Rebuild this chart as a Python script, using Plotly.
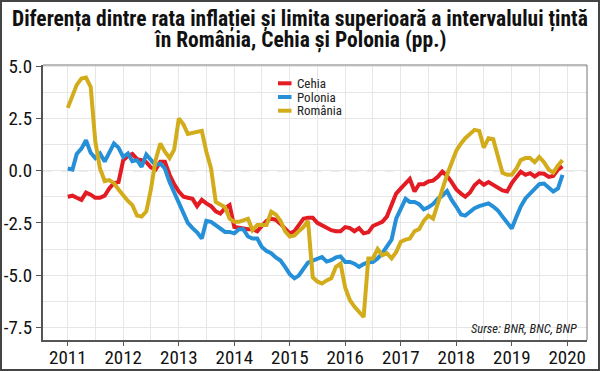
import pandas as pd
import plotly.graph_objects as go

months = pd.date_range("2011-01-01", periods=108, freq="MS")

cehia = [-1.25, -1.2, -1.3, -1.4, -1.05, -1.15, -1.3, -1.3, -1.2, -0.85, -0.6, -0.55,
         0.5, 0.7, 0.8, 0.55, 0.5, 0.4, 0.15, 0.05, 0.42, 0.42, -0.2, -0.65,
         -1.0, -1.25, -1.3, -1.35, -1.7, -1.4, -1.57, -1.7, -1.95, -2.05, -1.8, -1.65,
         -2.7, -2.75, -2.77, -2.8, -2.8, -2.9, -2.65, -2.4, -2.3, -2.35, -2.55, -2.8,
         -3.0, -2.9, -2.6, -2.3, -2.25, -2.25, -2.5, -2.62, -2.7, -2.85, -2.9, -2.9,
         -2.7, -2.75, -2.9, -2.75, -3.0, -2.95, -2.65, -2.55, -2.45, -2.2, -1.6, -1.1,
         -0.85, -0.6, -0.4, -1.0, -0.65, -0.65, -0.52, -0.48, -0.3, -0.05, -0.25, -0.55,
         -0.9, -1.1, -1.25, -1.05, -0.7, -0.5, -0.68, -0.55, -0.7, -0.85, -0.95, -1.0,
         -0.6, -0.3, -0.05, -0.2, -0.12, -0.28, -0.13, -0.15, -0.3, -0.25, 0.05, 0.2]

polonia = [0.1, 0.05, 0.8, 1.05, 1.45, 0.85, 0.6, 0.82, 0.43, 0.9, 1.3, 1.1,
           0.65, 0.82, 0.45, 0.5, 0.18, 0.77, 0.52, 0.25, 0.34, 0.1, -0.55, -1.05,
           -1.6, -2.1, -2.5, -2.75, -2.95, -3.25, -2.4, -2.45, -2.6, -2.75, -2.93, -2.93,
           -3.0, -2.8, -2.8, -3.15, -3.25, -3.25, -3.65, -3.85, -3.95, -4.15, -4.3, -4.6,
           -4.95, -5.15, -5.02, -4.7, -4.4, -4.3, -4.2, -4.13, -4.35, -4.28, -4.15, -4.1,
           -4.37, -4.37, -4.45, -4.6, -4.47, -4.38, -4.37, -4.2, -3.95, -3.65, -3.3, -2.3,
           -1.8, -1.35, -1.5, -1.5, -1.6, -1.85, -1.75, -1.6, -1.35, -1.2, -0.98, -1.4,
           -1.73, -2.1, -2.15, -1.98, -1.8, -1.7, -1.63, -1.57, -1.72, -1.9, -2.2, -2.45,
           -2.77, -2.2, -1.72, -1.33, -1.1, -0.9, -0.65, -0.62, -0.8, -1.0, -0.85, -0.2]

romania = [3.0, 3.6, 4.1, 4.4, 4.45, 4.0, 1.4, 0.1, -0.5, -0.45, -0.6, -0.9,
           -1.2, -1.45, -1.65, -2.15, -2.2, -1.95, -0.9, 0.5, 1.3, 0.9, 0.6, 1.0,
           2.5, 2.2, 1.75, 1.8, 1.85, 1.9, 0.9, 0.1, -1.5, -1.6, -1.75, -2.3,
           -2.45, -2.45, -2.4, -2.3, -2.85, -2.6, -2.6, -2.6, -1.97, -2.1, -2.4, -2.9,
           -3.15, -3.1, -2.9, -2.7, -2.4, -5.1, -5.3, -5.4, -5.25, -5.15, -4.6, -4.45,
           -5.6, -6.2, -6.5, -6.75, -7.0, -4.2, -4.2, -3.75, -4.05, -3.95, -4.2, -3.9,
           -3.4, -3.3, -3.25, -2.9, -2.8, -2.4, -2.15, -2.3, -1.5, -0.9, -0.2, 0.4,
           0.95, 1.3, 1.55, 1.75, 1.95, 1.9, 1.1, 1.55, 1.5, 0.7, -0.1, -0.2,
           -0.2, 0.1, 0.5, 0.6, 0.6, 0.4, 0.65, 0.4, 0.05, -0.1, 0.25, 0.5]

series_names = ["Cehia", "Polonia", "România"]
series_colors = ["#e31b23", "#2590d8", "#d3ac1c"]
series_values = [cehia, polonia, romania]

ytick_vals = [5, 2.5, 0, -2.5, -5, -7.5]
ytick_text = ["5.0", "2.5", "0.0", "-2.5", "-5.0", "-7.5"]
xtick_vals = [f"{y}-01-01" for y in range(2011, 2021)]
xtick_text = [str(y) for y in range(2011, 2021)]

title_line1 = "<b>Diferența dintre rata inflației și limita superioară a intervalului țintă</b>"
title_line2 = "<b>în România, Cehia și Polonia (pp.)</b>"
source_text = "<i>Surse: BNR, BNC, BNP</i>"

FONT = "Roboto Condensed, Liberation Sans Narrow, DejaVu Sans Condensed, Arial Narrow, sans-serif"

fig = go.Figure()
for name, color, vals in zip(series_names, series_colors, series_values):
    fig.add_trace(go.Scatter(x=months, y=vals, name=name, mode="lines",
                             line=dict(color=color, width=4), showlegend=False))

W, H = 600, 371
L, R, T, B = 43, 13, 65, 31
pw, ph = W - L - R, H - T - B


def py(px):
    """pixel row (from top) -> paper y"""
    return (H - B - px) / ph


def pxx(px):
    return (px - L) / pw


# legend (drawn as layout items so the rows sit close together like the original)
legend_rows = [83.3, 97.0, 110.7]
legend_shapes, legend_labels = [], []
for name, color, row in zip(series_names, series_colors, legend_rows):
    legend_shapes.append(dict(type="line", xref="paper", yref="paper",
                              x0=pxx(278), x1=pxx(291.5), y0=py(row), y1=py(row),
                              line=dict(color=color, width=4)))
    legend_labels.append(dict(text=name, xref="paper", yref="paper", x=pxx(294.5), y=py(row),
                              xanchor="left", yanchor="middle", showarrow=False,
                              font=dict(family=FONT, size=13, color="#222")))

fig.update_layout(
    width=W, height=H,
    margin=dict(l=L, r=R, t=T, b=B, autoexpand=False),
    paper_bgcolor="white", plot_bgcolor="white",
    font=dict(family=FONT, color="#222"),
    showlegend=False,
    xaxis=dict(range=["2010-07-22", "2020-05-10"], tickvals=xtick_vals, ticktext=xtick_text,
               ticks="outside", ticklen=4, tickcolor="#555", tickwidth=1,
               showline=True, linecolor="#555", linewidth=2, automargin=False,
               ticklabelstandoff=-5,
               showgrid=True, gridcolor="#e6e6e6", gridwidth=1,
               minor=dict(dtick="M6", tick0="2011-01-01", showgrid=True, gridcolor="#e6e6e6"),
               tickfont=dict(family=FONT, size=19, color="#111"), zeroline=False),
    yaxis=dict(range=[-8.1, 5.05], tickvals=ytick_vals, ticktext=ytick_text,
               ticks="outside", ticklen=5, tickcolor="#555", tickwidth=1,
               showline=True, linecolor="#555", linewidth=2, automargin=False,
               showgrid=True, gridcolor="#e6e6e6", gridwidth=1,
               minor=dict(dtick=1.25, tick0=0, showgrid=True, gridcolor="#e6e6e6"),
               tickfont=dict(family=FONT, size=19, color="#111"), zeroline=False),
    annotations=[
        dict(text=title_line1, xref="paper", yref="paper", x=pxx(300), y=py(19),
             xanchor="center", yanchor="middle", showarrow=False,
             font=dict(family=FONT, size=21.5, color="#111")),
        dict(text=title_line2, xref="paper", yref="paper", x=pxx(300), y=py(40),
             xanchor="center", yanchor="middle", showarrow=False,
             font=dict(family=FONT, size=21.5, color="#111")),
        dict(text=source_text, xref="paper", yref="paper", x=pxx(579), y=py(328),
             xanchor="right", yanchor="middle", showarrow=False,
             font=dict(family=FONT, size=12.5, color="#222")),
    ] + legend_labels,
    shapes=[
        dict(type="line", xref="paper", yref="y", x0=0, x1=1, y0=0, y1=0,
             line=dict(color="#555", width=1, dash="dash"), layer="below"),
        dict(type="line", xref="paper", yref="paper", x0=0, x1=1, y0=1, y1=1,
             line=dict(color="#777", width=1)),
        dict(type="line", xref="paper", yref="paper", x0=1, x1=1, y0=0, y1=1,
             line=dict(color="#777", width=1)),
        dict(type="rect", xref="paper", yref="paper",
             x0=pxx(1), x1=pxx(W - 1), y0=py(H - 1), y1=py(1),
             line=dict(color="#444", width=2)),
    ] + legend_shapes,
)

fig.write_html("out.html", config={"displayModeBar": False},
               post_script="document.body.style.margin='0';")
